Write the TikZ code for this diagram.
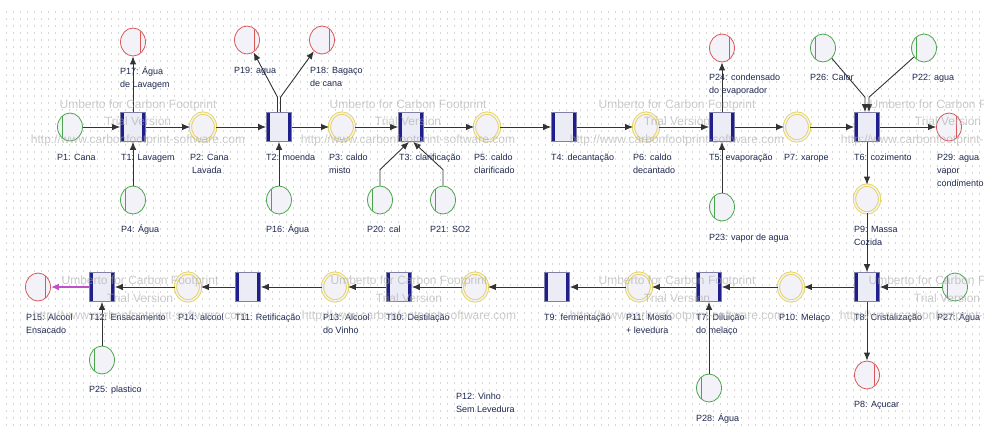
\documentclass[tikz,border=0pt]{standalone}
\usepackage{fontspec}
\setmainfont{Liberation Sans}
\usetikzlibrary{shapes.geometric,arrows.meta}
\definecolor{placefill}{HTML}{F2F2F8}
\definecolor{redc}{HTML}{D85858}
\definecolor{greenc}{HTML}{4AA64A}
\definecolor{yellowc}{HTML}{E6D25A}
\definecolor{transfill}{HTML}{ECECF6}
\definecolor{transedge}{HTML}{8080A8}
\definecolor{barc}{HTML}{1E1E8C}
\definecolor{arrowc}{HTML}{333333}
\definecolor{labelc}{HTML}{1E2850}
\definecolor{gridc}{HTML}{D6D6D6}
\definecolor{wmc}{HTML}{A8A8A8}
\definecolor{magc}{HTML}{C050C8}
\newcommand\lblstrut{\rule{0pt}{9pt}}
\begin{document}
\begin{tikzpicture}[x=1pt,y=-1pt,
  place/.style={ellipse, minimum width=25pt, minimum height=28pt, inner sep=0pt, fill=placefill},
  outp/.style={place, draw=redc, line width=0.8pt,
    path picture={\draw[redc, line width=0.8pt] ([xshift=7.5pt]path picture bounding box.north) -- ([xshift=7.5pt]path picture bounding box.south);}},
  inp/.style={place, draw=greenc, line width=0.8pt,
    path picture={\draw[greenc, line width=0.8pt] ([xshift=-7.5pt]path picture bounding box.north) -- ([xshift=-7.5pt]path picture bounding box.south);}},
  midp/.style={place, draw=yellowc, line width=0.9pt, double=placefill, double distance=1.4pt},
  trans/.style={rectangle, minimum width=25pt, minimum height=29pt, inner sep=0pt, fill=transfill, draw=transedge, line width=0.6pt,
    path picture={
      \draw[barc, line width=3.6pt] ([xshift=1.8pt]path picture bounding box.north west) -- ([xshift=1.8pt]path picture bounding box.south west);
      \draw[barc, line width=3.6pt] ([xshift=-1.8pt]path picture bounding box.north east) -- ([xshift=-1.8pt]path picture bounding box.south east);}},
  arr/.style={draw=arrowc, line width=0.9pt, -{Latex[length=8pt,width=6.5pt]}},
  arrm/.style={draw=magc, line width=1.8pt, -{Latex[length=8pt,width=7pt]}},
  lbl/.style={anchor=north west, inner sep=0pt, align=left, text=labelc, font=\fontsize{9}{13}\selectfont},
  wm/.style={align=center, inner sep=0pt, text=wmc, opacity=0.6, font=\fontsize{12}{17.5}\selectfont}
]
\useasboundingbox (0,0) rectangle (984,426);
\fill[white] (0,0) rectangle (984,426);
% dotted grid
\foreach \yy in {12,19,...,425}
  \draw[gridc, line width=1.1pt, dash pattern=on 1.1pt off 5.9pt] (6,\yy) -- (984,\yy);

% transitions
\node[trans] (T1) at (133,127) {};
\node[trans] (T2) at (279,127) {};
\node[trans] (T3) at (411,127) {};
\node[trans] (T4) at (564,127) {};
\node[trans] (T5) at (722,127) {};
\node[trans] (T6) at (867,127) {};
\node[trans] (T8) at (867,287) {};
\node[trans] (T7) at (709,287) {};
\node[trans] (T9) at (557,287) {};
\node[trans] (T10) at (399,287) {};
\node[trans] (T11) at (248,287) {};
\node[trans] (T12) at (102,287) {};

% places
\node[outp] (P17) at (133,42) {};
\node[inp]  (P1)  at (70,127) {};
\node[midp] (P2)  at (203,127) {};
\node[inp]  (P4)  at (133,200) {};
\node[outp] (P19) at (247,40) {};
\node[outp] (P18) at (322,40) {};
\node[midp] (P3)  at (342,127) {};
\node[inp]  (P16) at (279,200) {};
\node[inp]  (P20) at (380,200) {};
\node[inp]  (P21) at (443,200) {};
\node[midp] (P5)  at (487,127) {};
\node[midp] (P6)  at (646,127) {};
\node[outp] (P24) at (722,48) {};
\node[inp]  (P23) at (722,207) {};
\node[midp] (P7)  at (797,127) {};
\node[inp]  (P26) at (823,48) {};
\node[inp]  (P22) at (924,48) {};
\node[outp] (P29) at (949,127) {};
\node[midp] (P9)  at (867,199) {};
\node[inp]  (P27) at (955,287) {};
\node[outp] (P8)  at (867,375) {};
\node[midp] (P10) at (791,287) {};
\node[inp]  (P28) at (709,388) {};
\node[midp] (P11) at (639,287) {};
\node[midp] (P12) at (475,287) {};
\node[midp] (P13) at (335,287) {};
\node[midp] (P14) at (188,287) {};
\node[outp] (P15) at (38,287) {};
\node[inp]  (P25) at (102,360) {};

% connectors
\draw[arr] (P1) -- (T1);
\draw[arr] (T1) -- (P2);
\draw[arr] (P4) -- (T1);
\draw[arr] (T1) -- (P17);
\draw[arr] (P2) -- (T2);
\draw[arr] (P16) -- (T2);
\draw[arr] ([xshift=-1.5pt]T2.north) -- ++(0,-15) -- (P19);
\draw[arr] ([xshift=1.5pt]T2.north) -- ++(0,-15) -- (P18);
\draw[arr] (T2) -- (P3);
\draw[arr] (P3) -- (T3);
\draw[arr] (P20.north) -- ++(0,-16) -- ([xshift=-2pt]T3.south);
\draw[arr] (P21.north) -- ++(0,-16) -- ([xshift=2pt]T3.south);
\draw[arr] (T3) -- (P5);
\draw[arr] (P5) -- (T4);
\draw[arr] (T4) -- (P6);
\draw[arr] (P6) -- (T5);
\draw[arr] (P23) -- (T5);
\draw[arr] (T5) -- (P24);
\draw[arr] (T5) -- (P7);
\draw[arr] (P7) -- (T6);
\draw[arr] (P26) -- ([shift={(-2,-15)}]T6.north) -- ([xshift=-2pt]T6.north);
\draw[arr] (P22) -- ([shift={(2,-15)}]T6.north) -- ([xshift=2pt]T6.north);
\draw[arr] (T6) -- (P29);
\draw[arr] (T6) -- (P9);
\draw[arr] (P9) -- (T8);
\draw[arr] (P27) -- (T8);
\draw[arr] (T8) -- (P8);
\draw[arr] (T8) -- (P10);
\draw[arr] (P10) -- (T7);
\draw[arr] (P28) -- (T7);
\draw[arr] (T7) -- (P11);
\draw[arr] (P11) -- (T9);
\draw[arr] (T9) -- (P12);
\draw[arr] (P12) -- (T10);
\draw[arr] (T10) -- (P13);
\draw[arr] (P13) -- (T11);
\draw[arr] (T11) -- (P14);
\draw[arr] (P14) -- (T12);
\draw[arr] (P25) -- (T12);
\draw[arrm] (T12) -- (P15);

% labels
\node[lbl] (lP17) at (120,65.3) {\lblstrut P17: Água\\de Lavagem};
\node[lbl] (lP1)  at (57,151.3) {\lblstrut P1: Cana};
\node[lbl] (lT1)  at (121,151.3) {\lblstrut T1: Lavagem};
\node[lbl] (lP2)  at (190,151.3) {\lblstrut P2: Cana\\\hspace*{2pt}Lavada};
\node[lbl] (lP4)  at (121,223.3) {\lblstrut P4: Água};
\node[lbl] (lP19) at (234,64.3) {\lblstrut P19: agua};
\node[lbl] (lP18) at (310,64.3) {\lblstrut P18: Bagaço\\de cana};
\node[lbl] (lT2)  at (266,151.3) {\lblstrut T2: moenda};
\node[lbl] (lP3)  at (329,151.3) {\lblstrut P3: caldo\\misto};
\node[lbl] (lT3)  at (399,151.3) {\lblstrut T3: clarificação};
\node[lbl] (lP16) at (266,223.3) {\lblstrut P16: Água};
\node[lbl] (lP20) at (367,223.3) {\lblstrut P20: cal};
\node[lbl] (lP21) at (430,223.3) {\lblstrut P21: SO2};
\node[lbl] (lP5)  at (474,151.3) {\lblstrut P5: caldo\\clarificado};
\node[lbl] (lT4)  at (551,151.3) {\lblstrut T4: decantação};
\node[lbl] (lP6)  at (633,151.3) {\lblstrut P6: caldo\\decantado};
\node[lbl] (lT5)  at (709,151.3) {\lblstrut T5: evaporação};
\node[lbl] (lP24) at (709,71.3) {\lblstrut P24: condensado\\do evaporador};
\node[lbl] (lP23) at (709,231.3) {\lblstrut P23: vapor de agua};
\node[lbl] (lP26) at (810,71.3) {\lblstrut P26: Calor};
\node[lbl] (lP22) at (912,71.3) {\lblstrut P22: agua};
\node[lbl] (lP7)  at (784,151.3) {\lblstrut P7: xarope};
\node[lbl] (lT6)  at (854,151.3) {\lblstrut T6: cozimento};
\node[lbl] (lP29) at (937,151.3) {\lblstrut P29: agua\\vapor\\condimento};
\node[lbl] (lP9)  at (854,223.3) {\lblstrut P9: Massa\\Cozida};
\node[lbl] (lT8)  at (854,311.3) {\lblstrut T8: Cristalização};
\node[lbl] (lP27) at (937,311.3) {\lblstrut P27: Água};
\node[lbl] (lP8)  at (854,398.3) {\lblstrut P8: Açucar};
\node[lbl] (lP10) at (779,311.3) {\lblstrut P10: Melaço};
\node[lbl] (lT7)  at (696,311.3) {\lblstrut T7: Diluição\\do melaço};
\node[lbl] (lP28) at (696,412.3) {\lblstrut P28: Água};
\node[lbl] (lP11) at (626,311.3) {\lblstrut P11: Mosto\\+ levedura};
\node[lbl] (lT9)  at (544,311.3) {\lblstrut T9: fermentação};
\node[lbl] (lP12) at (456,390.3) {\lblstrut P12: Vinho\\Sem Levedura};
\node[lbl] (lT10) at (386,311.3) {\lblstrut T10: Destilação};
\node[lbl] (lP13) at (323,311.3) {\lblstrut P13: Alcool\\do Vinho};
\node[lbl] (lT11) at (235,311.3) {\lblstrut T11: Retificação};
\node[lbl] (lP14) at (178,311.3) {\lblstrut P14: alcool};
\node[lbl] (lT12) at (89,311.3) {\lblstrut T12: Ensacamento};
\node[lbl] (lP15) at (26,311.3) {\lblstrut P15: Alcool\\Ensacado};
\node[lbl] (lP25) at (89,383.3) {\lblstrut P25: plastico};

% watermarks
\node[wm] (wm1) at (138,122.5) {Umberto for Carbon Footprint\\Trial Version\\http://www.carbonfootprint-software.com};
\node[wm] (wm2) at (408,122.5) {Umberto for Carbon Footprint\\Trial Version\\http://www.carbonfootprint-software.com};
\node[wm] (wm3) at (677,122.5) {Umberto for Carbon Footprint\\Trial Version\\http://www.carbonfootprint-software.com};
\node[wm] (wm4) at (948,122.5) {Umberto for Carbon Footprint\\Trial Version\\http://www.carbonfootprint-software.com};
\node[wm] (wm5) at (140,299) {Umberto for Carbon Footprint\\Trial Version\\http://www.carbonfootprint-software.com};
\node[wm] (wm6) at (409,299) {Umberto for Carbon Footprint\\Trial Version\\http://www.carbonfootprint-software.com};
\node[wm] (wm7) at (677,299) {Umberto for Carbon Footprint\\Trial Version\\http://www.carbonfootprint-software.com};
\node[wm] (wm8) at (947,299) {Umberto for Carbon Footprint\\Trial Version\\http://www.carbonfootprint-software.com};
\end{tikzpicture}
\end{document}
